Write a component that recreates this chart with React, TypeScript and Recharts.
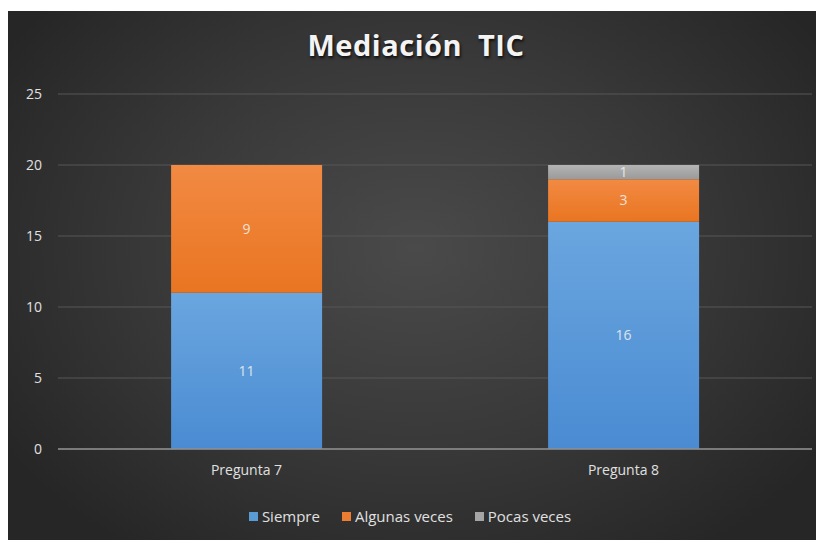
import {
  BarChart,
  Bar,
  XAxis,
  YAxis,
  CartesianGrid,
  Legend,
  LabelList,
} from "recharts";

const categories = ["Pregunta 7", "Pregunta 8"];
const siempre = [11, 16];
const algunasVeces = [9, 3];
const pocasVeces: Array<number | null> = [null, 1];
const yTicks = [0, 5, 10, 15, 20, 25];

const series = [
  { key: "siempre", name: "Siempre", color: "#5b9bd5", fill: "url(#gBlue)" },
  { key: "algunas", name: "Algunas veces", color: "#ed7d31", fill: "url(#gOrange)" },
  { key: "pocas", name: "Pocas veces", color: "#a5a5a5", fill: "url(#gGray)" },
];

const data = categories.map((name, i) => ({
  name,
  siempre: siempre[i],
  algunas: algunasVeces[i],
  pocas: pocasVeces[i],
}));

const font = "'Open Sans', 'DejaVu Sans', sans-serif";
const labelStyle = { fill: "#f2f2f2", fontSize: 14, fontFamily: font, opacity: 0.85 };

const renderLegend = () => (
  <div
    style={{
      display: "flex",
      justifyContent: "center",
      gap: 22,
      fontFamily: font,
      fontSize: 15,
      color: "#e0e0e0",
    }}
  >
    {series.map((s) => (
      <span key={s.key} style={{ display: "flex", alignItems: "center", gap: 4 }}>
        <span style={{ width: 9, height: 9, background: s.color, display: "inline-block" }} />
        {s.name}
      </span>
    ))}
  </div>
);

const App = () => {
  return (
    <div
      style={{
        position: "relative",
        width: 816,
        height: 529,
        marginTop: 3,
        background:
          "radial-gradient(ellipse 60% 70% at 50% 45%, #4a4a4a 0%, #383838 55%, #262626 100%)",
      }}
    >
      <div
        style={{
          position: "absolute",
          top: 14,
          left: 0,
          width: 816,
          textAlign: "center",
          color: "#f4f4f4",
          fontFamily: font,
          fontWeight: 700,
          fontSize: 29,
          letterSpacing: 0.5,
          textShadow: "1px 2px 3px rgba(0,0,0,0.8)",
          whiteSpace: "pre",
        }}
      >
        {"Mediación  TIC"}
      </div>
      <BarChart
        width={816}
        height={529}
        data={data}
        margin={{ top: 83, right: 12, left: 0, bottom: 41 }}
        barCategoryGap="30%"
      >
        <defs>
          <linearGradient id="gBlue" x1="0" y1="0" x2="0" y2="1">
            <stop offset="0%" stopColor="#6aa6df" />
            <stop offset="100%" stopColor="#4a8bd2" />
          </linearGradient>
          <linearGradient id="gOrange" x1="0" y1="0" x2="0" y2="1">
            <stop offset="0%" stopColor="#f28a43" />
            <stop offset="100%" stopColor="#e97521" />
          </linearGradient>
          <linearGradient id="gGray" x1="0" y1="0" x2="0" y2="1">
            <stop offset="0%" stopColor="#b4b4b4" />
            <stop offset="100%" stopColor="#9a9a9a" />
          </linearGradient>
        </defs>
        <CartesianGrid vertical={false} stroke="#575757" strokeWidth={1} />
        <XAxis
          dataKey="name"
          axisLine={{ stroke: "#8f8f8f", strokeWidth: 1.5 }}
          tickLine={false}
          tick={{ fill: "#e0e0e0", fontSize: 14, fontFamily: font }}
          tickMargin={10}
        />
        <YAxis
          domain={[0, 25]}
          ticks={yTicks}
          width={50}
          axisLine={false}
          tickLine={false}
          tickSize={0}
          tickMargin={16}
          tick={{ fill: "#e0e0e0", fontSize: 14, fontFamily: font }}
        />
        <Legend verticalAlign="bottom" wrapperStyle={{ bottom: 14 }} content={renderLegend} />
        {series.map((s) => (
          <Bar
            key={s.key}
            dataKey={s.key}
            name={s.name}
            stackId="a"
            fill={s.fill}
            isAnimationActive={false}
          >
            <LabelList dataKey={s.key} position="center" style={labelStyle} />
          </Bar>
        ))}
      </BarChart>
    </div>
  );
};

export default App;
